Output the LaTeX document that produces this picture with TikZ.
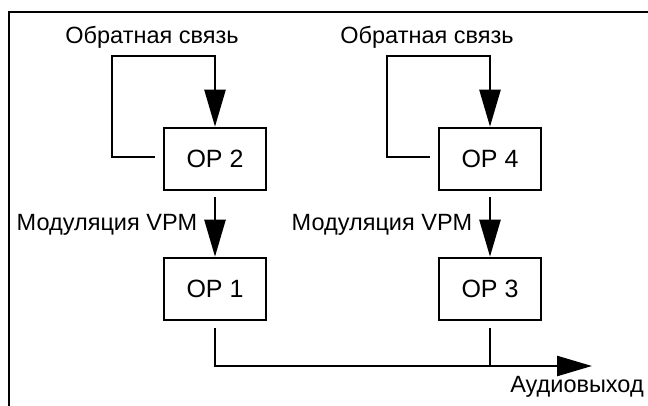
\documentclass[tikz,border=0pt]{standalone}
\usepackage{fontspec}
\setmainfont{Liberation Sans}
\usetikzlibrary{arrows.meta}
\begin{document}
\begin{tikzpicture}[x=1pt,y=-1pt,
  opbox/.style={draw,line width=2.6pt,minimum width=102pt,minimum height=62pt,inner sep=0pt,font=\fontsize{25}{28}\selectfont},
  wire/.style={line width=2.5pt},
  arr/.style={wire,-{Triangle[length=37pt,width=21pt]}},
  lbl/.style={inner sep=0pt,font=\fontsize{23.5}{26}\selectfont}]
\useasboundingbox (0,0) rectangle (648,406);
\draw[line width=2.6pt] (9,406) -- (9,12) -- (648,12);
\node[opbox] (op2) at (215,159) {OP 2};
\node[opbox] (op1) at (215,289) {OP 1};
\node[opbox] (op4) at (490,159) {OP 4};
\node[opbox] (op3) at (490,289) {OP 3};
\node[lbl] (fbl1) at (152,37) {Обратная связь};
\node[lbl] (fbl2) at (427,37) {Обратная связь};
\node[lbl] (mod1) at (107,225) {Модуляция VPM};
\node[lbl] (mod2) at (382,225) {Модуляция VPM};
\node[lbl] (audio) at (577,387) {Аудиовыход};
\coordinate (fb2) at (112,56);
\coordinate (fb4) at (387,56);
\coordinate (out) at (592,366);
\draw[arr] ([xshift=-8pt,yshift=2pt]op2.west) -| (fb2) -| (op2.north);
\draw[arr] ([xshift=-8pt,yshift=2pt]op4.west) -| (fb4) -| (op4.north);
\draw[arr,shorten <=6pt] (op2.south) -- (op1.north);
\draw[arr,shorten <=6pt] (op4.south) -- (op3.north);
\draw[wire,shorten <=7pt,-{Triangle[length=35pt,width=20pt]}] (op1.south) |- (out);
\draw[wire,shorten <=7pt] (op3.south) -- (op3.south |- out);
\end{tikzpicture}
\end{document}
